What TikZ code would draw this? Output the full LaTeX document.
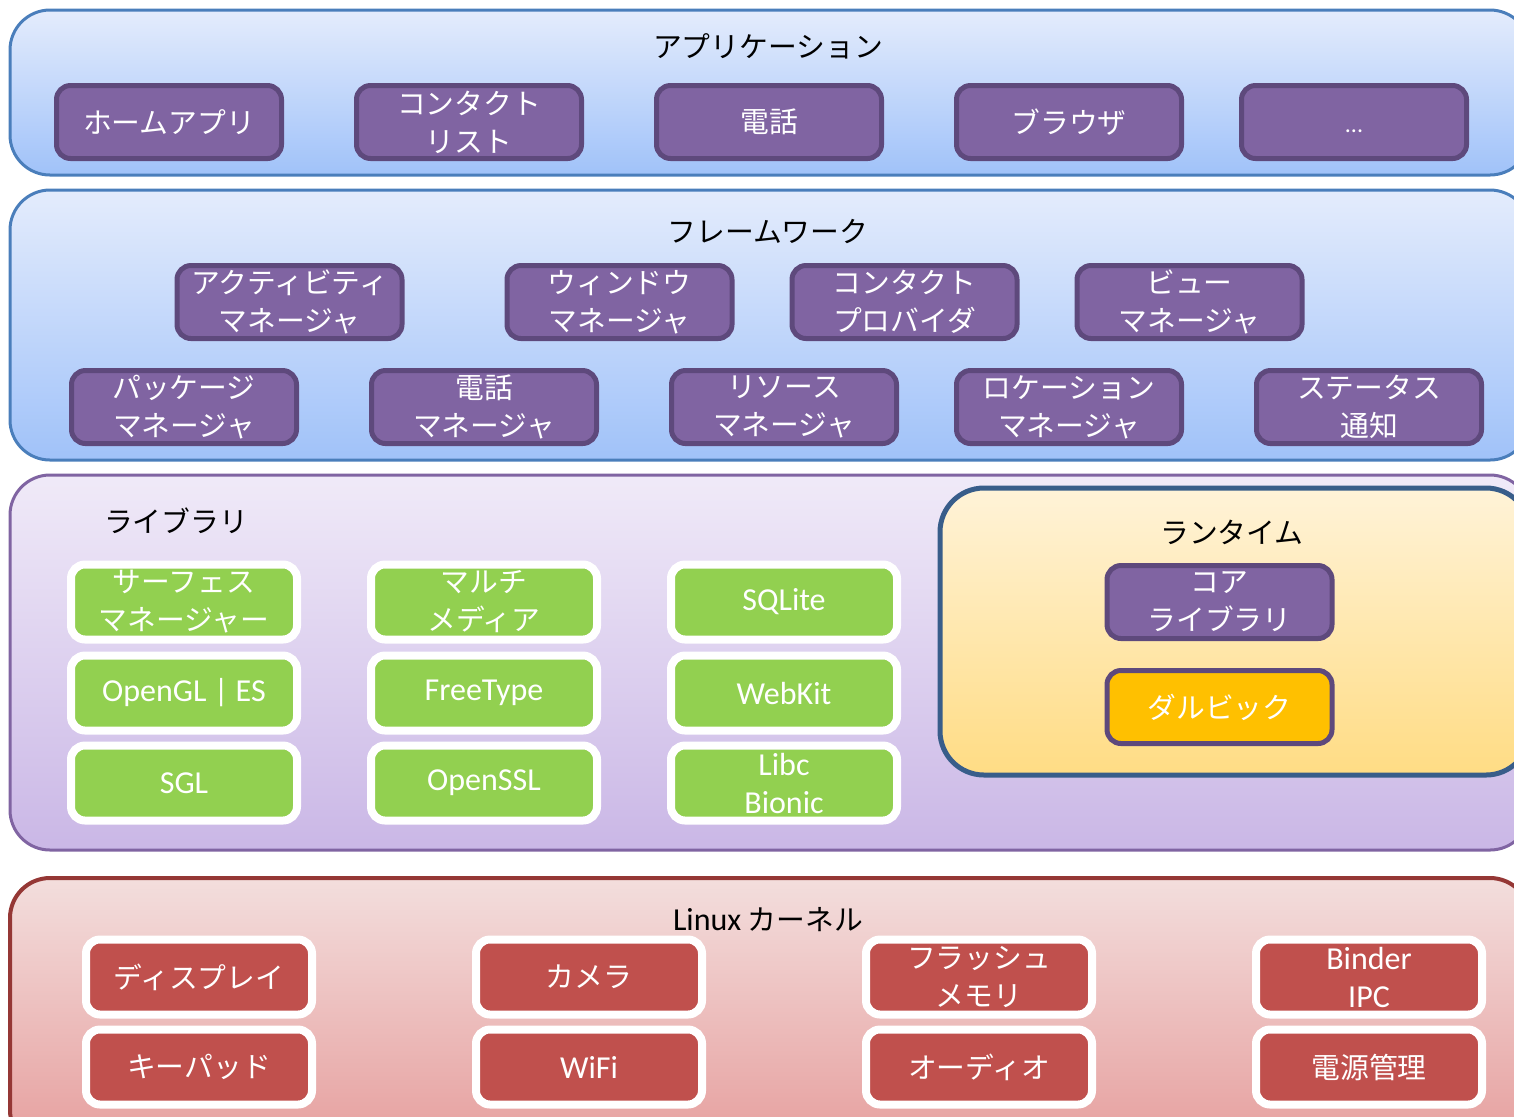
\documentclass[tikz,border=0pt]{standalone}
\usepackage{fontspec}
\setmainfont[Scale=0.9]{Noto Sans CJK JP}
\newfontfamily\lat{Carlito}
\usetikzlibrary{positioning}

\definecolor{appedge}{RGB}{74,126,187}
\definecolor{bluetop}{RGB}{228,236,252}
\definecolor{bluebot}{RGB}{160,194,249}
\definecolor{libedge}{RGB}{128,100,162}
\definecolor{libtop}{RGB}{240,234,248}
\definecolor{libbot}{RGB}{202,183,230}
\definecolor{rtedge}{RGB}{56,93,138}
\definecolor{rttop}{RGB}{255,243,216}
\definecolor{rtbot}{RGB}{255,220,132}
\definecolor{kernedge}{RGB}{149,55,53}
\definecolor{kerntop}{RGB}{243,222,221}
\definecolor{kernbot}{RGB}{230,158,157}
\definecolor{boxpurple}{RGB}{128,100,162}
\definecolor{boxedge}{RGB}{94,73,124}
\definecolor{libgreen}{RGB}{146,208,80}
\definecolor{kernred}{RGB}{192,80,77}
\definecolor{dalvikfill}{RGB}{255,192,0}

\tikzset{
	layer/.style={rounded corners=20pt, line width=1.5pt},
	title/.style={font=\fontsize{16}{19}\selectfont, text=black, inner sep=0pt},
	pbox/.style={draw=boxedge, fill=boxpurple, line width=2.5pt, rounded corners=7pt,
		minimum width=112.5pt, minimum height=36.5pt, inner sep=0pt,
		text=white, align=center, font=\fontsize{16}{19}\selectfont},
	gbox/.style={pbox, draw=white, fill=libgreen, line width=4pt,
		minimum width=113pt, minimum height=37.5pt},
	rbox/.style={gbox, fill=kernred},
}

\begin{document}
\begin{tikzpicture}[x=0.5pt, y=-0.5pt]
\useasboundingbox (0,0) rectangle (1514,1116);
\clip (0,0) rectangle (1514,1116);

% layers
\draw [layer, draw=appedge, top color=bluetop, bottom color=bluebot] (10,10) rectangle (1530,175);
\draw [layer, draw=appedge, top color=bluetop, bottom color=bluebot] (10,190) rectangle (1530,460);
\draw [layer, draw=libedge, top color=libtop, bottom color=libbot] (10,475) rectangle (1530,850);
\draw [layer, draw=rtedge, line width=2.5pt, rounded corners=22pt, top color=rttop, bottom color=rtbot] (940,488) rectangle (1530,775);
\draw [layer, draw=kernedge, line width=2pt, top color=kerntop, bottom color=kernbot] (10,878) rectangle (1530,1150);

% applications
\node [title] (apptitle) at (768,46) {アプリケーション};
\node [pbox] (home)    at (169,122)  {ホームアプリ};
\node [pbox] (contact) at (469,122)  {コンタクト\\リスト};
\node [pbox] (phone)   at (769,122)  {電話};
\node [pbox] (browser) at (1069,122) {ブラウザ};
\node [pbox, text height=2pt, text depth=0pt] (more) at (1354,122) {\lat\fontsize{12}{14}\selectfont\raisebox{-4pt}{...}};

% framework
\node [title] (fwtitle) at (768,231) {フレームワーク};
\node [pbox] (actmgr)   at (289.5,302)  {アクティビティ\\マネージャ};
\node [pbox] (winmgr)   at (619.5,302)  {ウィンドウ\\マネージャ};
\node [pbox] (contprov) at (904.5,302)  {コンタクト\\プロバイダ};
\node [pbox] (viewmgr)  at (1189.5,302) {ビュー\\マネージャ};
\node [pbox] (pkgmgr)   at (184,407)  {パッケージ\\マネージャ};
\node [pbox] (telmgr)   at (484,407)  {電話\\マネージャ};
\node [pbox] (resmgr)   at (784,407)  {リソース\\マネージャ};
\node [pbox] (locmgr)   at (1069,407) {ロケーション\\マネージャ};
\node [pbox] (notify)   at (1369,407) {ステータス\\通知};

% libraries
\node [title] (libtitle) at (176,521) {ライブラリ};
\node [gbox] (surface)  at (184,602) {サーフェス\\マネージャー};
\node [gbox] (media)    at (484,602) {マルチ\\メディア};
\node [gbox] (sqlite)   at (784,602) {\lat SQLite};
\node [gbox] (opengl)   at (184,693) {\lat OpenGL | ES};
\node [gbox] (freetype) at (484,693) {\lat FreeType};
\node [gbox] (webkit)   at (784,693) {\lat WebKit};
\node [gbox] (sgl)      at (184,783) {\lat SGL};
\node [gbox] (openssl)  at (484,783) {\lat OpenSSL};
\node [gbox] (libc)     at (784,783) {\lat Libc\\\lat Bionic};

% runtime
\node [title] (rttitle) at (1232,532) {ランタイム};
\node [pbox] (corelib) at (1219.5,602) {コア\\ライブラリ};
\node [pbox, fill=dalvikfill] (dalvik) at (1219.5,707) {ダルビック};

% kernel
\node [title] (kerntitle) at (768,920) {{\lat Linux} カーネル};
\node [rbox] (display) at (199,977)  {ディスプレイ};
\node [rbox] (camera)  at (589,977)  {カメラ};
\node [rbox] (flash)   at (979,977)  {フラッシュ\\メモリ};
\node [rbox] (binder)  at (1369,977) {\lat Binder\\\lat IPC};
\node [rbox] (keypad)  at (199,1067)  {キーパッド};
\node [rbox] (wifi)    at (589,1067)  {\lat WiFi};
\node [rbox] (audio)   at (979,1067)  {オーディオ};
\node [rbox] (power)   at (1369,1067) {電源管理};
\end{tikzpicture}
\end{document}
